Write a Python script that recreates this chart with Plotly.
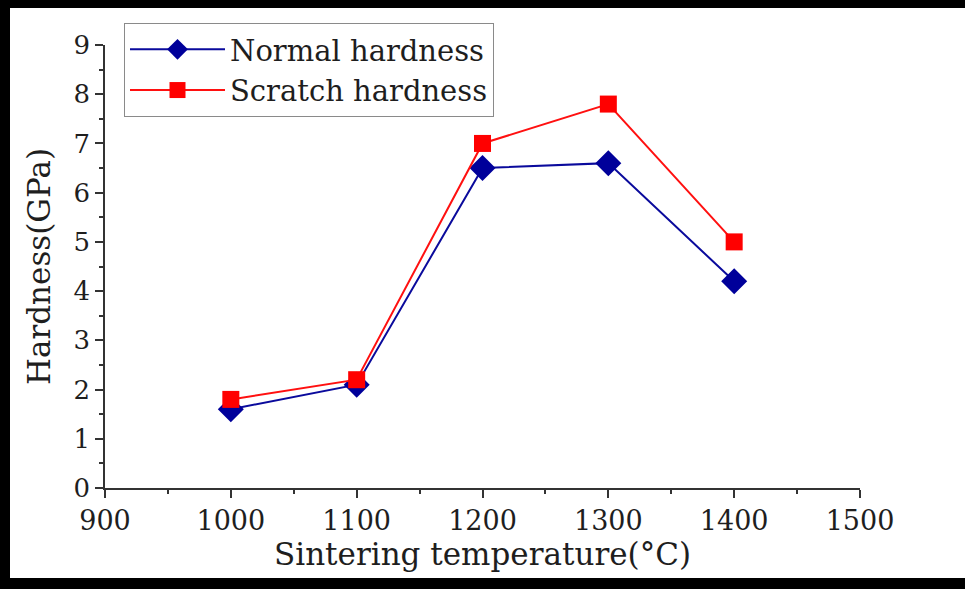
import plotly.graph_objects as go

temperature = [1000, 1100, 1200, 1300, 1400]
normal_hardness = [1.6, 2.1, 6.5, 6.6, 4.2]
scratch_hardness = [1.8, 2.2, 7.0, 7.8, 5.0]
x_ticks = [900, 1000, 1100, 1200, 1300, 1400, 1500]
y_ticks = [0, 1, 2, 3, 4, 5, 6, 7, 8, 9]

W, H = 965, 589
L, R, T, B = 105, 105, 45, 101
pw, ph = W - L - R, H - T - B

FONT = "DejaVu Serif, Liberation Serif, serif"
TXT = "#1e1e1e"

fig = go.Figure()
fig.add_trace(go.Scatter(
    x=temperature, y=normal_hardness, name="Normal hardness",
    mode="lines+markers",
    line=dict(color="#0a0a9c", width=2),
    marker=dict(symbol="diamond", size=20, color="#00009a"),
    cliponaxis=False,
))
fig.add_trace(go.Scatter(
    x=temperature, y=scratch_hardness, name="Scratch hardness",
    mode="lines+markers",
    line=dict(color="#ff1010", width=2),
    marker=dict(symbol="square", size=17, color="#ff0000"),
    cliponaxis=False,
))

def px_x(p):
    return (p - L) / pw

def px_y(p):
    return (H - B - p) / ph

shapes = [
    # black photo frame
    dict(type="rect", xref="paper", yref="paper", x0=px_x(0), x1=px_x(W), y0=px_y(0), y1=px_y(8),
         fillcolor="black", line=dict(width=0), layer="above"),
    dict(type="rect", xref="paper", yref="paper", x0=px_x(0), x1=px_x(10), y0=px_y(0), y1=px_y(H),
         fillcolor="black", line=dict(width=0), layer="above"),
    dict(type="rect", xref="paper", yref="paper", x0=px_x(0), x1=px_x(W), y0=px_y(578), y1=px_y(H),
         fillcolor="black", line=dict(width=0), layer="above"),
]

fig.update_layout(
    width=W, height=H,
    margin=dict(l=L, r=R, t=T, b=B),
    paper_bgcolor="white", plot_bgcolor="white",
    font=dict(family=FONT, color=TXT, size=26),
    shapes=shapes,
    showlegend=True,
    legend=dict(
        x=px_x(124), y=px_y(23), xanchor="left", yanchor="top",
        bordercolor="#8a8a8a", borderwidth=1, bgcolor="white",
        font=dict(family=FONT, size=29, color=TXT),
        itemwidth=95, tracegroupgap=0,
    ),
    xaxis=dict(
        range=[900, 1500], tickvals=x_ticks, ticktext=[str(v) for v in x_ticks],
        showgrid=False, zeroline=False,
        showline=True, linecolor="#333", linewidth=1.5, mirror=False,
        ticks="outside", ticklen=8, tickwidth=1.5, tickcolor="#333",
        minor=dict(dtick=50, tick0=900, ticks="outside", ticklen=4, tickwidth=1.5, tickcolor="#333"),
        tickfont=dict(size=27),
        title=dict(text="Sintering temperature(°C)", font=dict(size=31), standoff=4),
    ),
    yaxis=dict(
        range=[0, 9], tickvals=y_ticks, ticktext=[str(v) for v in y_ticks],
        showgrid=False, zeroline=False,
        showline=True, linecolor="#333", linewidth=1.5, mirror=False,
        ticks="outside", ticklen=8, tickwidth=1.5, tickcolor="#333",
        minor=dict(dtick=0.5, tick0=0, ticks="outside", ticklen=4, tickwidth=1.5, tickcolor="#333"),
        tickfont=dict(size=26),
        title=dict(text="Hardness(GPa)", font=dict(size=31), standoff=14),
    ),
)

fig.write_html("out.html")
